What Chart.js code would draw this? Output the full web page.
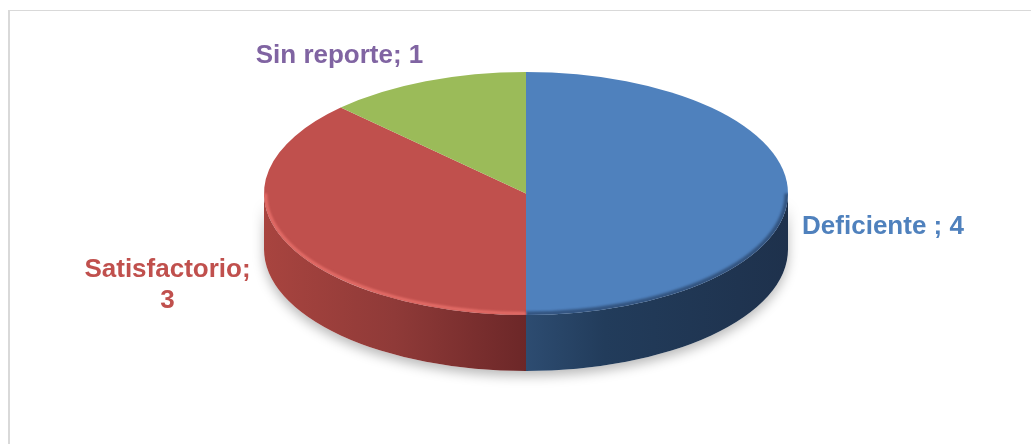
<!DOCTYPE html>
<html>
<head>
<meta charset="utf-8">
<script src="https://cdn.jsdelivr.net/npm/chart.js@4/dist/chart.umd.min.js"></script>
<style>
  html, body { margin: 0; padding: 0; background: #ffffff; }
  #wrap { width: 1031px; height: 444px; position: relative; }
</style>
</head>
<body>
<div id="wrap"><canvas id="c" width="1031" height="444"></canvas></div>
<script>
// Categories and counts
const categories = ['Deficiente ', 'Satisfactorio', 'Sin reporte'];
const counts = [4, 3, 1];

// Styling
const faceColors = ['#4F81BD', '#C0504D', '#9BBB59'];
const labelColors = ['#4F81BD', '#C0504D', '#8064A2'];

// Flattened pie geometry on screen (top face ellipse + extrusion depth)
const GEO = { cx: 526, cy: 193.5, rx: 262, ry: 121.5, depth: 56 };

// Label placement (center x, first baseline y, wrap after ';')
const LABELS = [
  { x: 883, y: 234, wrap: false },
  { x: 167.5, y: 277, wrap: true },
  { x: 339.5, y: 63, wrap: false }
];

function sideGradient(ctx, i) {
  const g = GEO;
  let gr;
  if (i === 0) {
    gr = ctx.createLinearGradient(g.cx, 0, g.cx + g.rx, 0);
    gr.addColorStop(0, '#2D4C71');
    gr.addColorStop(0.3, '#223C5B');
    gr.addColorStop(1, '#1E314C');
  } else if (i === 1) {
    gr = ctx.createLinearGradient(g.cx - g.rx, 0, g.cx, 0);
    gr.addColorStop(0, '#A8443F');
    gr.addColorStop(0.5, '#8F3A38');
    gr.addColorStop(1, '#6C2728');
  } else {
    gr = ctx.createLinearGradient(g.cx - g.rx, 0, g.cx, 0);
    gr.addColorStop(0, '#7E9A46');
    gr.addColorStop(1, '#5C7230');
  }
  return gr;
}

// Visible (front-facing) part of an angular range: canvas angles in [0, PI]
function frontPart(s, e) {
  const TAU = Math.PI * 2;
  for (let k = -2; k <= 2; k++) {
    const a = Math.max(s, k * TAU), b = Math.min(e, k * TAU + Math.PI);
    if (b > a) return [a - k * TAU, b - k * TAU];
  }
  return null;
}

const pie3d = {
  id: 'pie3d',
  beforeDraw(chart) {
    const ctx = chart.ctx;
    ctx.save();
    ctx.fillStyle = '#ffffff';
    ctx.fillRect(0, 0, chart.width, chart.height);
    ctx.fillStyle = '#D9D9D9';
    ctx.fillRect(8, 10, chart.width - 8, 1);
    ctx.fillRect(8, 10, 2, chart.height - 10);
    ctx.restore();
  },
  beforeDatasetsDraw(chart) {
    const ctx = chart.ctx;
    const g = GEO;
    const arcs = chart.getDatasetMeta(0).data;

    // soft shadow under the disc
    ctx.save();
    ctx.shadowColor = 'rgba(0,0,0,0.28)';
    ctx.shadowBlur = 12;
    ctx.shadowOffsetY = 5;
    ctx.fillStyle = '#ffffff';
    ctx.beginPath();
    ctx.ellipse(g.cx, g.cy, g.rx, g.ry, 0, 0, Math.PI);
    ctx.ellipse(g.cx, g.cy + g.depth, g.rx, g.ry, 0, Math.PI, 0, true);
    ctx.closePath();
    ctx.fill();
    ctx.restore();

    // extruded side walls of each slice
    arcs.forEach((arc, i) => {
      const p = frontPart(arc.startAngle, arc.endAngle);
      if (!p) return;
      const [s, e] = p;
      ctx.save();
      ctx.beginPath();
      ctx.ellipse(g.cx, g.cy, g.rx, g.ry, 0, s, e);
      ctx.ellipse(g.cx, g.cy + g.depth, g.rx, g.ry, 0, e, s, true);
      ctx.closePath();
      ctx.fillStyle = sideGradient(ctx, i);
      ctx.fill();
      ctx.restore();
    });

    // squash the library's round pie into the top face ellipse
    const a0 = arcs[0];
    const R = a0.outerRadius;
    ctx.save();
    ctx.translate(g.cx, g.cy);
    ctx.scale(g.rx / R, g.ry / R);
    ctx.translate(-a0.x, -a0.y);
  },
  afterDatasetsDraw(chart) {
    const ctx = chart.ctx;
    const g = GEO;
    ctx.restore();
    const arcs = chart.getDatasetMeta(0).data;

    // bevel along the front rim of the top face
    arcs.forEach((arc, i) => {
      const p = frontPart(arc.startAngle, arc.endAngle);
      if (!p) return;
      const [s, e] = p;
      ctx.save();
      ctx.beginPath();
      ctx.ellipse(g.cx, g.cy, g.rx, g.ry, 0, 0, Math.PI * 2);
      ctx.clip();
      ctx.filter = 'blur(1.2px)';
      ctx.beginPath();
      if (i === 1) {
        ctx.ellipse(g.cx, g.cy, g.rx - 1.5, g.ry - 1.5, 0, s, e);
        ctx.strokeStyle = 'rgba(232,112,106,0.95)';
        ctx.lineWidth = 3;
      } else {
        ctx.ellipse(g.cx, g.cy, g.rx - 1, g.ry - 1, 0, s, e);
        ctx.strokeStyle = 'rgba(30,50,80,0.55)';
        ctx.lineWidth = 5;
      }
      ctx.stroke();
      ctx.restore();
    });

    // data labels "category; value"
    ctx.save();
    ctx.font = 'bold 26px "Liberation Sans", Arial, sans-serif';
    ctx.textAlign = 'center';
    ctx.textBaseline = 'alphabetic';
    categories.forEach((name, i) => {
      const L = LABELS[i];
      const lines = L.wrap ? [name + ';', String(counts[i])] : [name + '; ' + counts[i]];
      ctx.fillStyle = labelColors[i];
      lines.forEach((t, k) => ctx.fillText(t, L.x, L.y + k * 31));
    });
    ctx.restore();
  }
};

new Chart(document.getElementById('c'), {
  type: 'pie',
  data: {
    labels: categories,
    datasets: [{
      data: counts,
      backgroundColor: faceColors,
      borderWidth: 0
    }]
  },
  options: {
    responsive: false,
    animation: false,
    events: [],
    plugins: { legend: { display: false }, tooltip: { enabled: false } }
  },
  plugins: [pie3d]
});
</script>
</body>
</html>
